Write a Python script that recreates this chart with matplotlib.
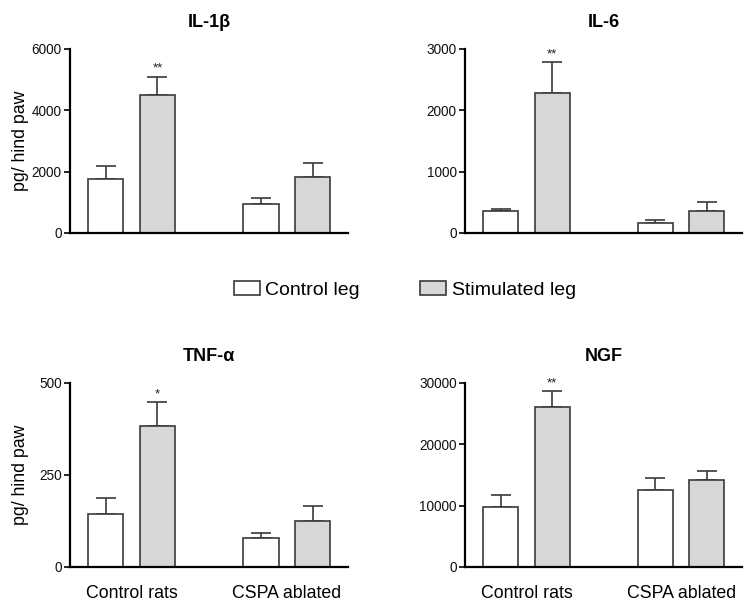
import matplotlib
matplotlib.use("Agg")
import matplotlib.pyplot as plt
from matplotlib.patches import Patch
import numpy as np

plt.rcParams['font.family'] = ['Liberation Sans', 'DejaVu Sans']

groups = ["Control rats", "CSPA ablated"]
series = ["Control leg", "Stimulated leg"]

il1b_mean = [[1750, 940], [4500, 1810]]
il1b_err = [[450, 215], [600, 480]]
il6_mean = [[360, 170], [2280, 365]]
il6_err = [[35, 50], [500, 135]]
tnf_mean = [[143, 80], [382, 126]]
tnf_err = [[45, 13], [66, 40]]
ngf_mean = [[9800, 12500], [26150, 14150]]
ngf_err = [[2000, 2050], [2500, 1550]]

panels = [
    ("IL-1β", il1b_mean, il1b_err, [0, 2000, 4000, 6000], [[None, None], ["**", None]]),
    ("IL-6", il6_mean, il6_err, [0, 1000, 2000, 3000], [[None, None], ["**", None]]),
    ("TNF-α", tnf_mean, tnf_err, [0, 250, 500], [[None, None], ["*", None]]),
    ("NGF", ngf_mean, ngf_err, [0, 10000, 20000, 30000], [[None, None], ["**", None]]),
]

colors = ["white", "#d7d7d7"]
W, H = 753, 613
fig = plt.figure(figsize=(W / 100, H / 100), dpi=100)

# axes rectangles in pixels: left, right, top, bottom
rects = [(70, 348, 49, 233), (465, 742, 49, 233), (70, 348, 383, 567), (465, 742, 383, 567)]

for i, ((title, mean, err, ticks, stars), (l, r, t, b)) in enumerate(zip(panels, rects)):
    ax = fig.add_axes([l / W, 1 - b / H, (r - l) / W, (b - t) / H])
    gc = np.arange(len(groups)) * 3.0
    for s in range(len(series)):
        x = gc + (s - 0.5)
        ax.bar(x, mean[s], width=0.68, color=colors[s], edgecolor="#3a3a3a", linewidth=1.2, zorder=2)
        ax.errorbar(x, mean[s], yerr=[np.zeros(len(groups)), err[s]], fmt="none",
                    ecolor="#3a3a3a", elinewidth=1.2, capsize=7.5, capthick=1.2, zorder=1)
        for g in range(len(groups)):
            if stars[s][g]:
                ax.text(x[g], mean[s][g] + err[s][g] + ticks[-1] * 0.01, stars[s][g],
                        ha="center", va="bottom", fontsize=9.5, color="#222")
    ax.set_xlim(-1.19, 4.18)
    ax.set_ylim(0, ticks[-1])
    ax.set_yticks(ticks)
    ax.set_yticklabels([str(v) for v in ticks], fontsize=9.8, color="#111")
    for sp in ["top", "right"]:
        ax.spines[sp].set_visible(False)
    ax.spines["left"].set_linewidth(1.6)
    ax.spines["bottom"].set_linewidth(1.6)
    ax.tick_params(axis="y", length=4, width=1.2, pad=2)
    ax.tick_params(axis="x", length=0, pad=13)
    if i >= 2:
        ax.set_xticks(gc)
        ax.set_xticklabels(groups, fontsize=12.8)
    else:
        ax.set_xticks([])
    if i % 2 == 0:
        ax.set_ylabel("pg/ hind paw", fontsize=12.8)
        ax.yaxis.set_label_coords((29 - l) / (r - l), 0.5)
    ax.set_title(title, fontsize=13, fontweight="bold", pad=16)

handles = [Patch(facecolor=c, edgecolor="#3a3a3a", linewidth=1.2) for c in colors]
fig.legend(handles, series, loc="center", bbox_to_anchor=(405 / W, 1 - 290 / H), ncol=2,
           frameon=False, fontsize=14, handlelength=1.34, handleheight=0.72,
           handletextpad=0.3, columnspacing=3.1)

fig.savefig("out.png", dpi=100)
